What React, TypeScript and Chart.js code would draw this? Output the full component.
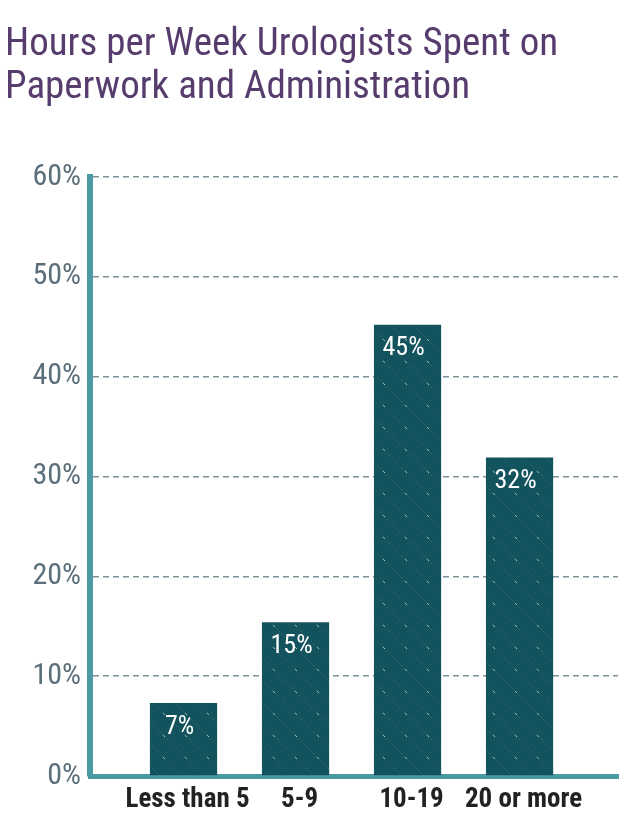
import React, { useEffect, useRef } from 'react';
import { Chart, registerables } from 'chart.js';

Chart.register(...registerables);

const TITLE_LINES = ['Hours per Week Urologists Spent on', 'Paperwork and Administration'];
const CATEGORIES = ['Less than 5', '5-9', '10-19', '20 or more'];
const VALUES = [7.3, 15.4, 45.2, 31.9];
const VALUE_LABELS = ['7%', '15%', '45%', '32%'];
const Y_MIN = 0;
const Y_MAX = 60;
const Y_STEP = 10;

const COND = "'Roboto Condensed', Roboto, sans-serif";

function makePattern(ctx: CanvasRenderingContext2D) {
  const s = 22;
  const c = document.createElement('canvas');
  c.width = s;
  c.height = s;
  const g = c.getContext('2d')!;
  g.fillStyle = '#13535e';
  g.fillRect(0, 0, s, s);
  g.strokeStyle = 'rgba(170,200,205,0.3)';
  g.lineWidth = 1;
  g.setLineDash([1, 2.5]);
  g.beginPath();
  g.moveTo(-2, -2);
  g.lineTo(s + 2, s + 2);
  g.stroke();
  g.setLineDash([]);
  g.strokeStyle = 'rgba(215,228,232,0.7)';
  g.beginPath();
  g.moveTo(9, 9);
  g.lineTo(11, 11);
  g.stroke();
  return ctx.createPattern(c, 'repeat');
}

const valueLabelPlugin = {
  id: 'valueLabels',
  afterDatasetsDraw(chart: any) {
    const meta = chart.getDatasetMeta(0);
    const ctx = chart.ctx;
    ctx.save();
    ctx.fillStyle = '#ffffff';
    ctx.font = `26px ${COND}`;
    ctx.textAlign = 'center';
    ctx.textBaseline = 'middle';
    meta.data.forEach((bar: any, i: number) => {
      ctx.fillText(VALUE_LABELS[i], bar.x - 4, bar.y + 24);
    });
    ctx.restore();
  },
};

export default function App() {
  const ref = useRef<HTMLCanvasElement>(null);

  useEffect(() => {
    const canvas = ref.current!;
    const ctx = canvas.getContext('2d')!;
    const pattern = makePattern(ctx);
    const chart = new Chart(canvas, {
      type: 'bar',
      data: {
        datasets: [
          {
            data: CATEGORIES.map((_, i) => ({ x: i, y: VALUES[i] })),
            backgroundColor: pattern as any,
            borderWidth: 0,
            barPercentage: 0.75,
            categoryPercentage: 0.8,
          },
        ],
      },
      options: {
        animation: false,
        responsive: false,
        layout: { padding: { left: 5, right: 22, top: 0, bottom: 0 } },
        plugins: {
          legend: { display: false },
          tooltip: { enabled: false },
          title: {
            display: true,
            text: TITLE_LINES,
            align: 'start',
            color: '#573d6d',
            font: { family: COND, size: 39, weight: 'normal', lineHeight: 1.1 },
            padding: { top: 24, bottom: 67.2 },
          },
        },
        scales: {
          x: {
            type: 'linear',
            offset: false,
            min: -0.835,
            max: 3.879,
            z: 1,
            grid: { display: false, drawTicks: false, offset: false },
            border: { display: true, color: '#4a9aa3', width: 5 },
            afterFit: (scale: any) => {
              scale.height = 61;
            },
            ticks: {
              stepSize: 1,
              autoSkip: false,
              maxRotation: 0,
              minRotation: 0,
              includeBounds: false,
              padding: 8,
              labelOffset: 4,
              color: '#222222',
              font: { family: COND, size: 27, weight: 'bold' },
              callback: (v: any) => (Number.isInteger(v) && CATEGORIES[v] !== undefined ? CATEGORIES[v] : ''),
            },
          },
          y: {
            min: Y_MIN,
            max: Y_MAX,
            grid: { color: '#7d939c', lineWidth: 1.5, drawTicks: false },
            border: { display: true, color: '#4a9aa3', width: 6, dash: [6, 4] },
            afterFit: (scale: any) => {
              scale.width = 85;
            },
            ticks: {
              stepSize: Y_STEP,
              padding: 9,
              color: '#5b6f7a',
              font: { family: COND, size: 30 },
              callback: (v: any) => `${v}%`,
            },
          },
        },
      },
      plugins: [valueLabelPlugin],
    });
    return () => chart.destroy();
  }, []);

  return (
    <div style={{ position: 'absolute', left: 0, top: 0, width: 640, height: 837, background: '#fff' }}>
      <canvas ref={ref} width={640} height={837} style={{ display: 'block' }} />
    </div>
  );
}
